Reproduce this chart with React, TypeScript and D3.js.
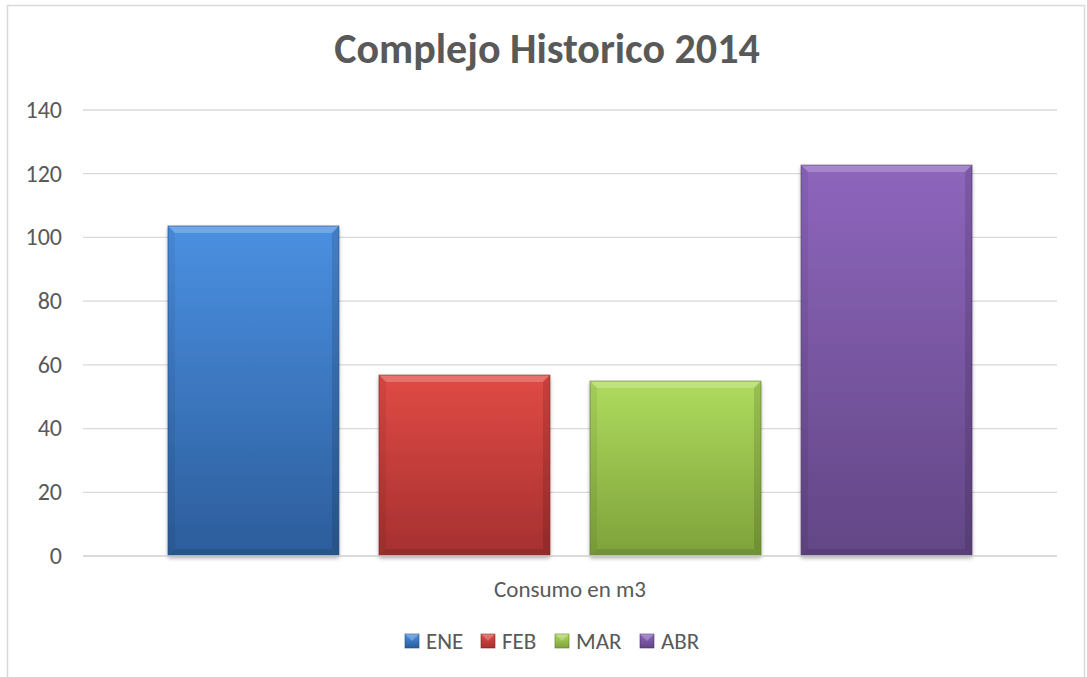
import React from "react";
import * as d3 from "d3";

const categories = ["Consumo en m3"];
const seriesNames = ["ENE", "FEB", "MAR", "ABR"];
const seriesValues = [103.6, 56.8, 54.9, 122.7];
const yTicks = [0, 20, 40, 60, 80, 100, 120, 140];
const seriesTop = ["#4b90e2", "#e04a45", "#aedb5e", "#8e66bd"];
const seriesBottom = ["#2c5d9b", "#a5302f", "#7ea23a", "#624685"];
const seriesEdge = ["#1f4a80", "#822322", "#5f7c26", "#4b3369"];

const W = 1087;
const H = 677;
const FONT = "Carlito, Calibri, 'Open Sans', 'Liberation Sans', sans-serif";

export default function App() {
  const plot = { left: 83, right: 1057, top: 110, bottom: 556 };
  const y = d3.scaleLinear().domain([0, 140]).range([plot.bottom, plot.top]);
  const x0 = d3
    .scaleBand<string>()
    .domain(categories)
    .range([plot.left, plot.right])
    .paddingInner(0)
    .paddingOuter(0.1057);
  const x1 = d3
    .scaleBand<string>()
    .domain(seriesNames)
    .range([0, x0.bandwidth()])
    .paddingInner(0.19)
    .paddingOuter(0);
  const bev = 7;
  const legendX = [405, 481, 555, 640];

  return (
    <svg width={W} height={H} style={{ position: "absolute", left: 0, top: 0 }}>
      <defs>
        {seriesNames.map((s, i) => (
          <linearGradient key={s} id={`g${i}`} x1="0" y1="0" x2="0" y2="1">
            <stop offset="0" stopColor={seriesTop[i]} />
            <stop offset="1" stopColor={seriesBottom[i]} />
          </linearGradient>
        ))}
        <filter id="sh" x="-10%" y="-10%" width="120%" height="120%">
          <feGaussianBlur in="SourceAlpha" stdDeviation="2" />
          <feOffset dx="0" dy="2" result="b" />
          <feComponentTransfer>
            <feFuncA type="linear" slope="0.35" />
          </feComponentTransfer>
          <feMerge>
            <feMergeNode />
            <feMergeNode in="SourceGraphic" />
          </feMerge>
        </filter>
      </defs>
      <rect x={0} y={0} width={W} height={H} fill="#fff" />
      <rect x={7.5} y={5.5} width={1077} height={700} fill="#fff" stroke="#d9d9d9" strokeWidth={1.5} />
      <text
        x={547}
        y={63}
        textAnchor="middle"
        fontFamily={FONT}
        fontWeight="bold"
        fontSize={42}
        fill="#595959"
      >
        Complejo Historico 2014
      </text>
      {yTicks.map((t) => (
        <g key={t}>
          <line x1={plot.left} x2={plot.right} y1={y(t)} y2={y(t)} stroke="#d9d9d9" strokeWidth={1.3} />
          <text
            x={62}
            y={y(t)}
            dy="0.33em"
            textAnchor="end"
            fontFamily={FONT}
            fontSize={24}
            fill="#595959"
          >
            {t}
          </text>
        </g>
      ))}
      {categories.map((c) => (
        <g key={c} transform={`translate(${x0(c)},0)`}>
          {seriesNames.map((s, i) => {
            const bx = x1(s)!;
            const bw = x1.bandwidth();
            const by = y(seriesValues[i]);
            const bh = y(0) - by;
            return (
              <g key={s}>
                <rect x={bx} y={by} width={bw} height={bh} fill={`url(#g${i})`} filter="url(#sh)" />
                <polygon
                  points={`${bx},${by} ${bx + bw},${by} ${bx + bw - bev},${by + bev} ${bx + bev},${by + bev}`}
                  fill="#fff"
                  opacity={0.22}
                />
                <polygon
                  points={`${bx},${by} ${bx + bev},${by + bev} ${bx + bev},${by + bh - bev} ${bx},${by + bh}`}
                  fill="#000"
                  opacity={0.06}
                />
                <polygon
                  points={`${bx + bw},${by} ${bx + bw - bev},${by + bev} ${bx + bw - bev},${by + bh - bev} ${bx + bw},${by + bh}`}
                  fill="#000"
                  opacity={0.12}
                />
                <polygon
                  points={`${bx},${by + bh} ${bx + bev},${by + bh - bev} ${bx + bw - bev},${by + bh - bev} ${bx + bw},${by + bh}`}
                  fill="#000"
                  opacity={0.1}
                />
                <rect x={bx} y={by} width={bw} height={bh} fill="none" stroke={seriesEdge[i]} strokeWidth={1} opacity={0.6} />
              </g>
            );
          })}
          <text
            x={x0.bandwidth() / 2}
            y={589}
            dy="0.33em"
            textAnchor="middle"
            fontFamily={FONT}
            fontSize={23}
            fill="#595959"
          >
            {c}
          </text>
        </g>
      ))}
      <line x1={plot.left} x2={plot.right} y1={y(0)} y2={y(0)} stroke="#d9d9d9" strokeWidth={1.3} />
      {seriesNames.map((s, i) => (
        <g key={s} transform={`translate(${legendX[i]},${641})`}>
          <rect x={0} y={-7} width={14} height={14} fill={`url(#g${i})`} stroke={seriesEdge[i]} strokeWidth={0.6} />
          <polygon points="0,-7 14,-7 7,0" fill="#fff" opacity={0.25} />
          <text x={21} y={0} dy="0.33em" fontFamily={FONT} fontSize={23} fill="#595959">
            {s}
          </text>
        </g>
      ))}
    </svg>
  );
}
